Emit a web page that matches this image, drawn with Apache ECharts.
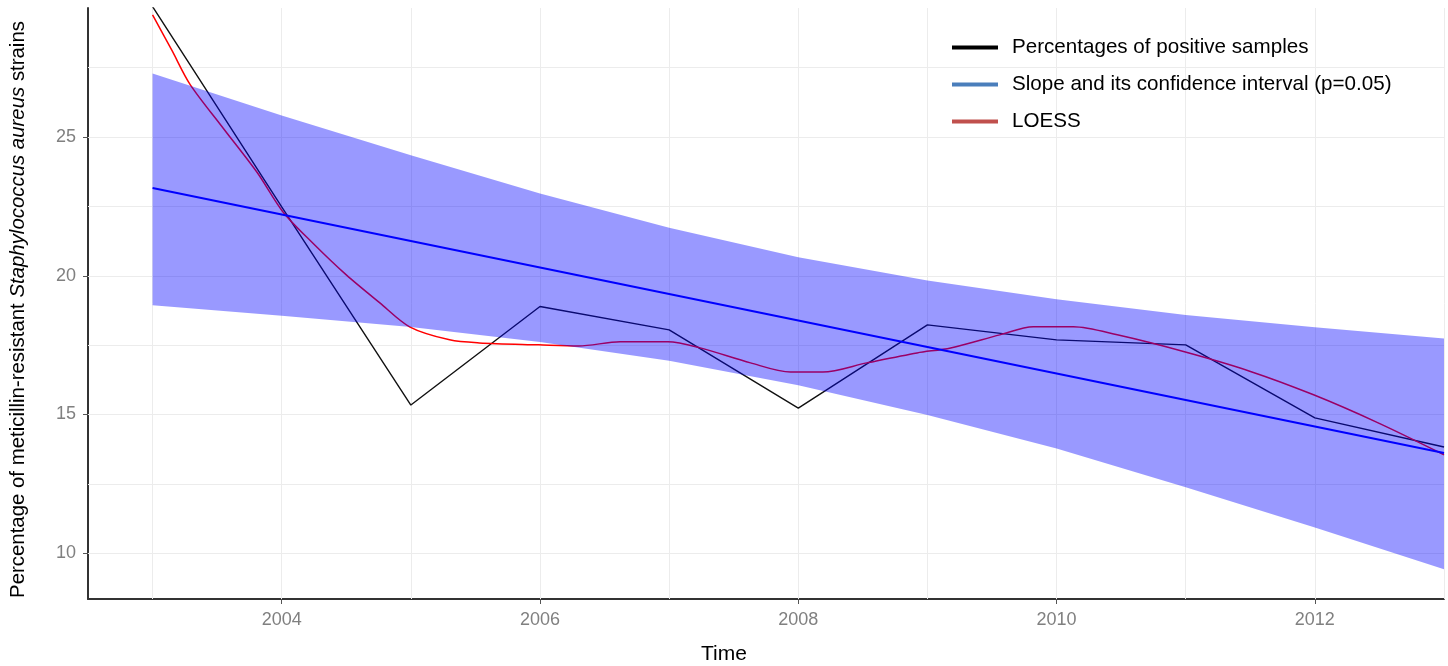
<!DOCTYPE html>
<html>
<head>
<meta charset="utf-8">
<script src="https://cdn.jsdelivr.net/npm/echarts@6/dist/echarts.min.js"></script>
<style>
  html, body { margin: 0; padding: 0; background: #fff; }
  #chart { width: 1448px; height: 666px; }
</style>
</head>
<body>
<div id="chart"></div>
<script>
// ---- data ----
const years = [2003, 2004, 2005, 2006, 2007, 2008, 2009, 2010, 2011, 2012, 2013];
const pctValues = [29.7, 22.48, 15.34, 18.89, 18.05, 15.23, 18.23, 17.69, 17.51, 14.88, 13.83];
const ciUpper = [27.29, 25.78, 24.34, 22.96, 21.73, 20.67, 19.83, 19.15, 18.59, 18.14, 17.74];
const ciLower = [18.94, 18.56, 18.15, 17.61, 16.94, 16.05, 14.98, 13.77, 12.38, 10.93, 9.42];
const slopeYears = [2003, 2013];
const slopeValues = [23.16, 13.61];
const loessX = [2003.00, 2003.15, 2003.29, 2003.55, 2003.81, 2004.01, 2004.24, 2004.50, 2004.76, 2004.99,
                2005.30, 2005.53, 2005.99, 2006.30, 2006.62, 2006.99, 2007.24, 2007.63, 2007.94, 2008.19,
                2008.53, 2008.92, 2009.18, 2009.56, 2009.82, 2010.13, 2010.47, 2010.99, 2011.49, 2011.99,
                2012.49, 2013.00];
const loessY = [29.40, 28.12, 26.90, 25.30, 23.72, 22.30, 21.18, 20.03, 19.02, 18.16,
                17.69, 17.58, 17.51, 17.47, 17.62, 17.62, 17.40, 16.86, 16.53, 16.53,
                16.86, 17.22, 17.40, 17.87, 18.16, 18.16, 17.87, 17.26, 16.57, 15.71,
                14.70, 13.55];
const xTickValues = [2004, 2006, 2008, 2010, 2012];
const yTickValues = [10, 15, 20, 25];
const xGridValues = [2003, 2004, 2005, 2006, 2007, 2008, 2009, 2010, 2011, 2012, 2013];
const yGridValues = [10, 12.5, 15, 17.5, 20, 22.5, 25, 27.5];
const legendLabels = ['Percentages of positive samples', 'Slope and its confidence interval (p=0.05)', 'LOESS'];
const legendColors = ['#000000', '#4a7ebb', '#c0504d'];
const xTitle = 'Time';
const yTitle = 'Percentage of meticillin-resistant {i|Staphylococcus aureus} strains';

// ---- build ----
const FONT = "'Liberation Sans', Arial, sans-serif";
const zip = (xs, ys) => xs.map((x, i) => [x, ys[i]]);

const chart = echarts.init(document.getElementById('chart'), null, { renderer: 'canvas' });

const series = [
  {
    name: 'grid', type: 'line', data: [], z: 1, silent: true,
    markLine: {
      z: 1, silent: true, symbol: ['none', 'none'], animation: false,
      label: { show: false },
      lineStyle: { color: '#ececec', width: 1, type: 'solid' },
      emphasis: { disabled: true },
      data: xGridValues.map(v => ({ xAxis: v })).concat(yGridValues.map(v => ({ yAxis: v })))
    }
  },
  {
    name: 'pct', type: 'line', data: zip(years, pctValues), z: 2,
    symbol: 'none', lineStyle: { color: '#111', width: 1.4 }, itemStyle: { color: '#111' }
  },
  {
    name: 'loess', type: 'line', data: zip(loessX, loessY), z: 2, smooth: 0.3,
    symbol: 'none', lineStyle: { color: '#ff0000', width: 1.5 }, itemStyle: { color: '#ff0000' }
  },
  {
    name: 'ci', type: 'custom', coordinateSystem: 'cartesian2d', z: 3, silent: true,
    data: [[years[0], ciUpper[0]]],
    encode: { x: 0, y: 1 },
    renderItem: function (params, api) {
      if (params.dataIndex !== 0) return null;
      const pts = [];
      for (let i = 0; i < years.length; i++) pts.push(api.coord([years[i], ciUpper[i]]));
      for (let i = years.length - 1; i >= 0; i--) pts.push(api.coord([years[i], ciLower[i]]));
      return { type: 'polygon', shape: { points: pts }, style: { fill: 'rgba(0,0,255,0.4)', stroke: null } };
    }
  },
  {
    name: 'slope', type: 'line', data: zip(slopeYears, slopeValues), z: 4,
    symbol: 'none', lineStyle: { color: '#0000ff', width: 2 }, itemStyle: { color: '#0000ff' }
  }
];
legendLabels.forEach((lab, i) => {
  series.push({
    name: lab, type: 'line', data: [],
    itemStyle: { color: legendColors[i] }, lineStyle: { color: legendColors[i] }
  });
});

chart.setOption({
  animation: false,
  backgroundColor: '#ffffff',
  textStyle: { fontFamily: FONT },
  grid: { left: 88, right: 4, top: 8, bottom: 67, containLabel: false },
  legend: {
    data: legendLabels,
    orient: 'vertical', left: 952, top: 37,
    icon: 'rect', itemWidth: 46, itemHeight: 4, itemGap: 16, padding: 0,
    selectedMode: false,
    textStyle: { fontSize: 20.6, color: '#000', fontFamily: FONT, padding: [0, 0, 0, 9] }
  },
  xAxis: {
    type: 'value', min: 2002.5, max: 2013,
    axisLine: { show: true, onZero: false, lineStyle: { color: '#333', width: 2 } },
    axisTick: { show: true, customValues: xTickValues, length: 5, lineStyle: { color: '#555', width: 1 } },
    axisLabel: { customValues: xTickValues, color: '#808080', fontSize: 18, margin: 12, fontFamily: FONT,
      formatter: v => String(v) },
    splitLine: { show: false }
  },
  yAxis: {
    type: 'value', min: 8.35, max: 29.65,
    name: yTitle, nameLocation: 'middle', nameRotate: 90, nameGap: 60,
    nameTextStyle: { fontSize: 20.4, color: '#000', fontFamily: FONT, padding: [0, 12, 0, 0],
      rich: { i: { fontStyle: 'italic', fontSize: 20.4, color: '#000', fontFamily: FONT } } },
    axisLine: { show: true, onZero: false, lineStyle: { color: '#333', width: 2 } },
    axisTick: { show: true, customValues: yTickValues, length: 5, lineStyle: { color: '#555', width: 1 } },
    axisLabel: { customValues: yTickValues, color: '#808080', fontSize: 18, margin: 12, fontFamily: FONT,
      formatter: v => String(v) },
    splitLine: { show: false }
  },
  graphic: [{
    type: 'text', left: 'center', top: 644,
    style: { text: xTitle, fill: '#000', font: "21px 'Liberation Sans', Arial, sans-serif" }
  }],
  series: series
});
</script>
</body>
</html>
